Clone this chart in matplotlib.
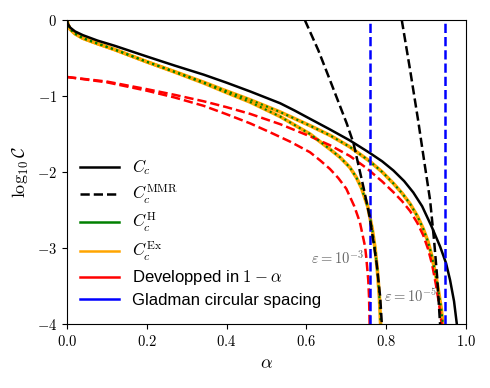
import matplotlib
matplotlib.use("Agg")
import matplotlib.pyplot as plt
from matplotlib.lines import Line2D
from matplotlib.ticker import FuncFormatter

plt.rcParams['mathtext.fontset'] = 'cm'
plt.rcParams['font.family'] = ['DejaVu Sans']

# ---- data ----
# C_c (exact, one curve)
cc_alpha = [0, 0.002, 0.008, 0.02, 0.04, 0.076, 0.12, 0.2, 0.27, 0.343, 0.40, 0.459, 0.534,
            0.57, 0.609, 0.659, 0.709, 0.759, 0.79, 0.818, 0.845, 0.868, 0.89, 0.914, 0.935,
            0.95, 0.96, 0.97, 0.977]
cc_val = [0, -0.05, -0.10, -0.15, -0.20, -0.27, -0.34, -0.48, -0.60, -0.72, -0.825, -0.94,
          -1.095, -1.19, -1.30, -1.44, -1.585, -1.75, -1.86, -1.98, -2.12, -2.27, -2.45, -2.72,
          -2.98, -3.20, -3.42, -3.70, -4.0]

# C_c^Ex / C_c^H, eps = 1e-5
ex5_alpha = [0, 0.002, 0.008, 0.02, 0.04, 0.076, 0.12, 0.2, 0.27, 0.343, 0.40, 0.459, 0.534,
             0.609, 0.66, 0.709, 0.759, 0.79, 0.818, 0.84, 0.86, 0.878, 0.893, 0.905, 0.915,
             0.925, 0.932, 0.938, 0.942]
ex5_val = [0, -0.06, -0.12, -0.18, -0.24, -0.31, -0.39, -0.55, -0.68, -0.82, -0.935, -1.05,
           -1.21, -1.39, -1.52, -1.67, -1.86, -2.0, -2.15, -2.28, -2.42, -2.58, -2.75, -2.92,
           -3.12, -3.38, -3.60, -3.80, -4.0]

# C_c^Ex / C_c^H, eps = 1e-3
ex3_alpha = [0, 0.002, 0.008, 0.02, 0.04, 0.076, 0.12, 0.2, 0.27, 0.343, 0.40, 0.459, 0.534,
             0.609, 0.659, 0.685, 0.709, 0.725, 0.738, 0.754, 0.765, 0.772, 0.778, 0.783, 0.786]
ex3_val = [0, -0.06, -0.12, -0.18, -0.24, -0.31, -0.39, -0.55, -0.685, -0.83, -0.955, -1.08,
           -1.27, -1.50, -1.70, -1.81, -1.94, -2.07, -2.21, -2.46, -2.75, -3.0, -3.3, -3.65, -4.0]

# C_c^MMR, two curves
mmr3_alpha = [0.596, 0.63, 0.659, 0.701, 0.718, 0.743, 0.759, 0.776, 0.785, 0.789]
mmr3_val = [0, -0.40, -0.79, -1.36, -1.62, -2.20, -2.60, -3.20, -3.65, -4.0]
mmr5_alpha = [0.839, 0.860, 0.880, 0.895, 0.910, 0.920, 0.928, 0.935]
mmr5_val = [0, -0.66, -1.32, -1.85, -2.37, -2.90, -3.40, -4.0]

# Developped in 1 - alpha, two curves
dev5_alpha = [0, 0.1, 0.2, 0.27, 0.343, 0.40, 0.459, 0.534, 0.609, 0.66, 0.709, 0.751, 0.79,
              0.818, 0.84, 0.86, 0.878, 0.893, 0.905, 0.915, 0.925, 0.932, 0.938, 0.9395]
dev5_val = [-0.75, -0.81, -0.91, -0.985, -1.07, -1.147, -1.235, -1.37, -1.53, -1.65, -1.79,
            -1.95, -2.125, -2.265, -2.385, -2.515, -2.67, -2.835, -3.015, -3.215, -3.495,
            -3.72, -3.96, -4.0]
dev3_alpha = [0, 0.1, 0.2, 0.27, 0.343, 0.40, 0.459, 0.51, 0.559, 0.609, 0.635, 0.659, 0.68,
              0.70, 0.72, 0.734, 0.747, 0.75, 0.755, 0.757, 0.7585]
dev3_val = [-0.75, -0.82, -0.93, -1.02, -1.13, -1.24, -1.36, -1.48, -1.60, -1.74, -1.85,
            -1.96, -2.08, -2.22, -2.45, -2.66, -2.98, -3.12, -3.42, -3.65, -4.0]

# Gladman circular spacing
gladman_alpha = [0.759, 0.947]

eps_labels = [r'$\varepsilon=10^{-3}$', r'$\varepsilon=10^{-5}$']
eps_pos = [(0.679, -3.13), (0.862, -3.64)]

x_ticks = [0.0, 0.2, 0.4, 0.6, 0.8, 1.0]
y_ticks = [0, -1, -2, -3, -4]

# ---- figure ----
fig = plt.figure(figsize=(4.9, 3.88), dpi=100)
ax = fig.add_axes([67/490, 64/388, 399/490, 304/388])

ax.plot(cc_alpha, cc_val, color='black', lw=1.8, zorder=3)
for a, v in [(mmr3_alpha, mmr3_val), (mmr5_alpha, mmr5_val)]:
    ax.plot(a, v, color='black', lw=1.8, ls='--', zorder=5)
for a, v in [(ex5_alpha, ex5_val), (ex3_alpha, ex3_val)]:
    ax.plot(a, v, color='orange', lw=2.6, zorder=2)
    ax.plot(a, v, color='green', lw=1.5, ls=':', zorder=2.5)
for a, v in [(dev5_alpha, dev5_val), (dev3_alpha, dev3_val)]:
    ax.plot(a, v, color='red', lw=1.8, ls='--', zorder=2.2)
for g in gladman_alpha:
    ax.axvline(g, color='blue', lw=1.8, ls='--', zorder=4)

for lab, (x, y) in zip(eps_labels, eps_pos):
    ax.text(x, y, lab, color='#666666', fontsize=10.5, ha='center', va='center')

ax.set_xlim(0, 1)
ax.set_ylim(-4, 0)
ax.set_xticks(x_ticks)
ax.set_yticks(y_ticks)
ax.xaxis.set_major_formatter(FuncFormatter(lambda v, p: r'$%.1f$' % v))
ax.yaxis.set_major_formatter(FuncFormatter(lambda v, p: r'$%d$' % v))
ax.tick_params(labelsize=10.5)
ax.set_xlabel(r'$\alpha$', fontsize=13)
ax.set_ylabel(r'$\log_{10}\mathcal{C}$', fontsize=13)

handles = [
    Line2D([], [], color='black', lw=1.8),
    Line2D([], [], color='black', lw=1.8, ls='--'),
    Line2D([], [], color='green', lw=1.8),
    Line2D([], [], color='orange', lw=1.8),
    Line2D([], [], color='red', lw=1.8),
    Line2D([], [], color='blue', lw=1.8),
]
labels = [r'$C_c$', r'$C_c^{\mathrm{MMR}}$', r'$C_c^{\mathrm{H}}$', r'$C_c^{\mathrm{Ex}}$',
          r'Developped in $1-\alpha$', 'Gladman circular spacing']
leg = ax.legend(handles, labels, loc='lower left', bbox_to_anchor=(0.0, 0.012), frameon=False,
                prop={'family': 'Liberation Sans', 'size': 12},
                handlelength=2.35, handletextpad=0.8, borderaxespad=0.35, labelspacing=0.33)

fig.savefig('out.png', dpi=100)
